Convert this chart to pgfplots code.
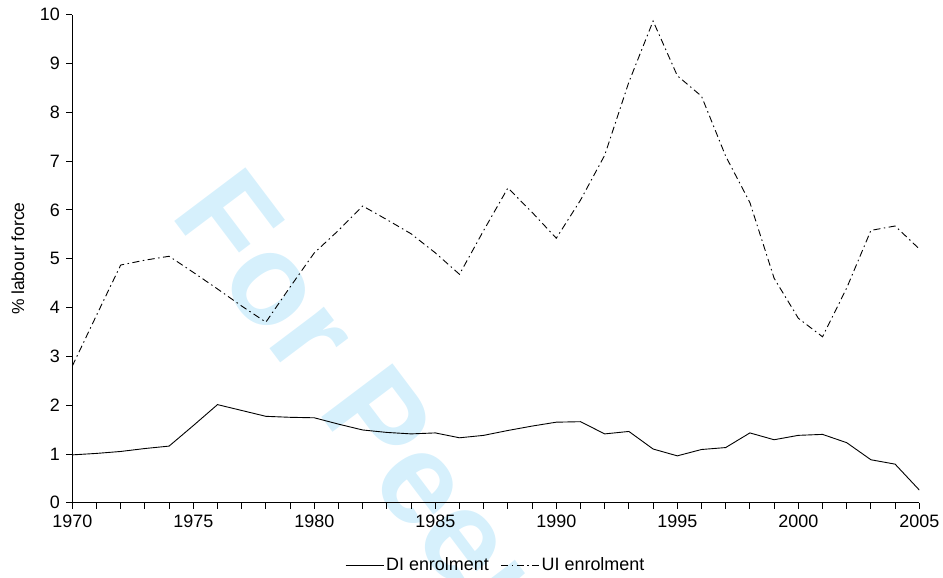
\documentclass[border=0pt]{standalone}
\usepackage{fontspec}
\setmainfont{Liberation Sans}
\usepackage{pgfplots}
\pgfplotsset{compat=1.18}
\definecolor{wm}{RGB}{214,240,252}
\pgfplotstableread{
year di ui
1970 0.98 2.80
1971 1.01 3.84
1972 1.05 4.87
1973 1.11 4.97
1974 1.16 5.05
1975 1.58 4.72
1976 2.01 4.38
1977 1.89 4.03
1978 1.77 3.70
1979 1.75 4.42
1980 1.74 5.12
1981 1.61 5.58
1982 1.49 6.08
1983 1.44 5.80
1984 1.41 5.51
1985 1.43 5.12
1986 1.33 4.68
1987 1.38 5.58
1988 1.48 6.45
1989 1.57 5.95
1990 1.65 5.42
1991 1.66 6.20
1992 1.41 7.12
1993 1.46 8.62
1994 1.10 9.87
1995 0.96 8.75
1996 1.09 8.33
1997 1.13 7.10
1998 1.43 6.15
1999 1.29 4.60
2000 1.38 3.78
2001 1.40 3.40
2002 1.23 4.40
2003 0.88 5.58
2004 0.79 5.67
2005 0.26 5.20
}\datatable
\begin{document}
\begin{tikzpicture}
\useasboundingbox (-72.3bp,-75.3bp) rectangle (870.7bp,502.7bp);
\node[anchor=base west, rotate=-53, text=wm, inner sep=0pt,
      font=\fontsize{130}{130}\selectfont\bfseries] at (97bp,288bp) {For Peer Review};
\begin{axis}[
  scale only axis, width=847bp, height=488bp,
  xmin=1970, xmax=2005, ymin=0, ymax=10,
  axis lines=left, axis line style={-, line width=0.9bp},
  xtick={1970,1975,...,2005}, minor xtick={1970,...,2005},
  ytick={0,1,...,10},
  tick align=outside, major tick length=6bp, minor tick length=6bp,
  tick style={black, line width=0.8bp},
  /pgf/number format/assume math mode=true,
  /pgf/number format/1000 sep={},
  tick label style={font=\fontsize{18}{18}\selectfont},
  xticklabel style={yshift=-3bp},
  yticklabel style={xshift=-3bp},
  ylabel={\% labour force},
  every axis y label/.style={at={(axis description cs:-0.0641,0.5)}, rotate=90, anchor=center, font=\fontsize{17.5}{17.5}\selectfont},
  legend style={at={(0.5,-0.1277)}, anchor=center, draw=none, fill=none,
    font=\fontsize{18}{18}\selectfont, legend columns=2,
    /tikz/every even column/.append style={column sep=10bp}},
  legend image code/.code={\draw[#1] (0bp,0bp) -- (38bp,0bp);},
]
\addplot[black, line width=0.9bp] table[x=year, y=di] {\datatable};
\addlegendentry{DI enrolment}
\addplot[black, line width=0.9bp, dash pattern=on 7bp off 3.5bp on 1.5bp off 3.5bp] table[x=year, y=ui] {\datatable};
\addlegendentry{UI enrolment}
\end{axis}
\end{tikzpicture}
\end{document}
